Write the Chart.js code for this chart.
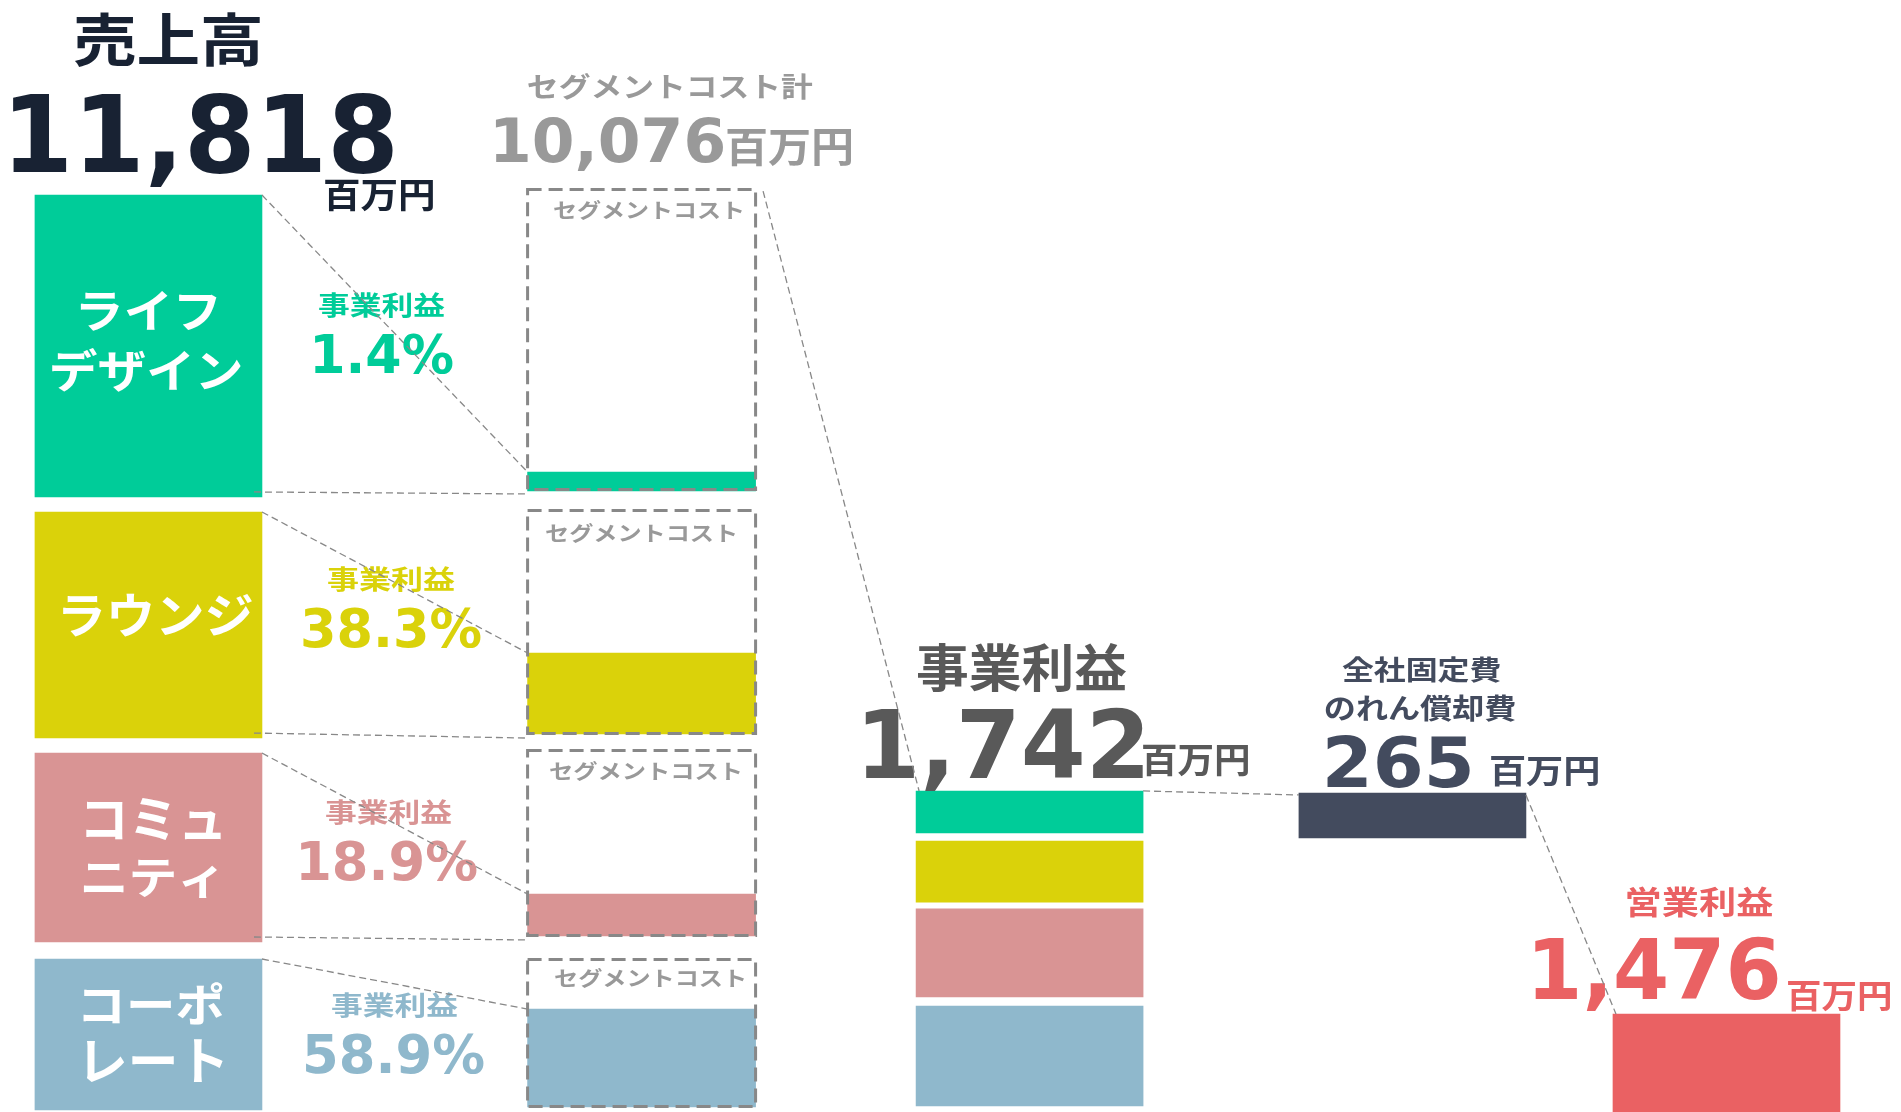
<!DOCTYPE html>
<html lang="ja">
<head>
<meta charset="utf-8">
<title>売上高から営業利益まで</title>
<script src="https://cdn.jsdelivr.net/npm/chart.js@4.4.1/dist/chart.umd.min.js"></script>
<style>
  html, body { margin: 0; padding: 0; background: #fff; }
  #wrap { width: 1901px; height: 1112px; }
</style>
</head>
<body>
<div id="wrap"><canvas id="chart" width="1901" height="1112"></canvas></div>
<script>
// セグメント
const segments = [['ライフ', 'デザイン'], ['ラウンジ'], ['コミュ', 'ニティ'], ['コーポ', 'レート']];
const profitRates = ['1.4%', '38.3%', '18.9%', '58.9%'];

// 合計（百万円）
const totalLabels = ['売上高', 'セグメントコスト計', '事業利益', '全社固定費', 'のれん償却費', '営業利益'];
const totalValues = ['11,818', '10,076', '1,742', '265', '1,476'];
const unit = '百万円';
const boxLabel = 'セグメントコスト';

// 縦軸 0（上端）〜 100（下端）で読んだ各ブロックの範囲
const salesRanges = [[17.54, 44.69], [46.04, 66.37], [67.72, 84.71], [86.24, 99.82]];
const costBoxRanges = [[16.91, 44.15], [45.77, 66.10], [67.36, 84.26], [86.15, 99.64]];
const boxProfitRanges = [[42.45, 44.15], [58.72, 66.01], [80.40, 84.17], [90.74, 99.55]];
const profitStackRanges = [[71.13, 74.91], [75.63, 81.12], [81.74, 89.66], [90.47, 99.46]];
const fixedCostRange = [71.31, 75.36];
const opProfitRange = [91.19, 100];

// 色
const segmentColors = ['#00CC99', '#DAD20A', '#D99494', '#8FB8CC'];
const NAVY = '#182233';
const SLATE = '#434B5E';
const GREY = '#999999';
const DARK = '#595959';
const RED = '#EA6163';
const LINE = '#888888';

const JP = '"Noto Sans CJK JP", "Noto Sans", sans-serif';
const NUM = '"DejaVu Sans", Verdana, sans-serif';

// 列の横位置（x軸 0〜100）
const colX = [7.81, 33.75, 54.16, 74.30, 90.82];
const pts = (ranges, col) => ranges.map(r => ({ x: colX[col], y: r }));

// テキストの配置 [文字, x0, y0, x1, y1, 色, フォント]
const texts = [
  [totalLabels[0], 74, 12, 260, 67, NAVY, JP],
  [totalValues[0], 13, 93, 393, 174, NAVY, NUM],
  [unit, 325, 180, 433, 212, NAVY, JP],
  [totalLabels[1], 528, 73, 813, 100, GREY, JP],
  [totalValues[1], 495, 117, 723, 163, GREY, NUM],
  [unit, 727, 130, 852, 167, GREY, JP],

  [segments[0][0], 80, 291, 217, 331, '#ffffff', JP],
  [segments[0][1], 52, 348, 241, 392, '#ffffff', JP],
  [segments[1][0], 63, 594, 252, 637, '#ffffff', JP],
  [segments[2][0], 86, 798, 221, 840, '#ffffff', JP],
  [segments[2][1], 83, 860, 217, 898, '#ffffff', JP],
  [segments[3][0], 83, 982, 223, 1025, '#ffffff', JP],
  [segments[3][1], 86, 1040, 223, 1083, '#ffffff', JP],

  [totalLabels[2], 318, 293, 445, 318, segmentColors[0], JP],
  [profitRates[0], 315, 333, 453, 374, segmentColors[0], NUM],
  [totalLabels[2], 327, 567, 455, 592, segmentColors[1], JP],
  [profitRates[1], 303, 607, 481, 648, segmentColors[1], NUM],
  [totalLabels[2], 325, 800, 452, 825, segmentColors[2], JP],
  [profitRates[2], 301, 840, 477, 881, segmentColors[2], NUM],
  [totalLabels[2], 331, 993, 458, 1018, segmentColors[3], JP],
  [profitRates[3], 306, 1033, 484, 1074, segmentColors[3], NUM],

  [boxLabel, 553, 200, 742, 220, GREY, JP],
  [boxLabel, 545, 523, 735, 543, GREY, JP],
  [boxLabel, 549, 761, 740, 781, GREY, JP],
  [boxLabel, 554, 968, 744, 988, GREY, JP],

  [totalLabels[2], 917, 643, 1127, 692, DARK, JP],
  [totalValues[2], 865, 707, 1143, 778, DARK, NUM],
  [unit, 1143, 745, 1248, 777, DARK, JP],
  [totalLabels[3], 1342, 657, 1500, 683, SLATE, JP],
  [totalLabels[4], 1325, 695, 1515, 722, SLATE, JP],
  [totalValues[3], 1327, 735, 1470, 788, SLATE, NUM],
  [unit, 1490, 757, 1598, 787, SLATE, JP],
  [totalLabels[5], 1627, 888, 1773, 918, RED, JP],
  [totalValues[4], 1535, 937, 1778, 1000, RED, NUM],
  [unit, 1787, 982, 1890, 1012, RED, JP]
];

// 文字のインク範囲を箱に合わせて描く
function fitText(ctx, str, x0, y0, x1, y1, color, family) {
  const bare = str.replace(/[,.]/g, '');
  ctx.font = 'bold 100px ' + family;
  const ref = ctx.measureText(bare);
  const size = 100 * (y1 - y0) / (ref.actualBoundingBoxAscent + ref.actualBoundingBoxDescent);
  ctx.font = 'bold ' + size.toFixed(2) + 'px ' + family;
  const m = ctx.measureText(str);
  const r = ctx.measureText(bare);
  const sx = (x1 - x0) / (m.actualBoundingBoxLeft + m.actualBoundingBoxRight);
  ctx.save();
  ctx.fillStyle = color;
  ctx.textAlign = 'left';
  ctx.textBaseline = 'alphabetic';
  ctx.translate(x0, y1 - r.actualBoundingBoxDescent);
  ctx.scale(sx, 1);
  ctx.fillText(str, m.actualBoundingBoxLeft, 0);
  ctx.restore();
}

function barRect(chart, di, i) {
  const p = chart.getDatasetMeta(di).data[i].getProps(['x', 'y', 'base', 'width'], true);
  return { l: p.x - p.width / 2, r: p.x + p.width / 2, t: Math.min(p.y, p.base), b: Math.max(p.y, p.base) };
}

const overlay = {
  id: 'overlay',
  afterDatasetsDraw(chart) {
    const ctx = chart.ctx;

    // セグメントコストの点線枠
    ctx.save();
    ctx.strokeStyle = LINE;
    ctx.lineWidth = 3;
    ctx.setLineDash([14, 7]);
    costBoxRanges.forEach((_, i) => {
      const b = barRect(chart, 1, i);
      ctx.strokeRect(b.l + 1.5, b.t + 1.5, b.r - b.l - 3, b.b - b.t - 3);
    });
    ctx.restore();

    texts.forEach(t => fitText(ctx, ...t));

    // つなぎの点線
    const lines = [];
    salesRanges.forEach((_, i) => {
      const s = barRect(chart, 0, i);
      const p = barRect(chart, 2, i);
      lines.push([s.r, s.t, p.l, p.t]);
      if (i < 3) {
        const c = barRect(chart, 1, i);
        lines.push([s.r - 8, s.b - 5, c.l, c.b + 3]);
      }
    });
    const box0 = barRect(chart, 1, 0);
    const st0 = barRect(chart, 3, 0);
    const fx = barRect(chart, 4, 0);
    const op = barRect(chart, 5, 0);
    lines.push([box0.r + 6, box0.t + 3, st0.l + 3, st0.t]);
    lines.push([st0.r, st0.t, fx.l, fx.t + 2]);
    lines.push([fx.r, fx.t + 2, op.l + 3, op.t]);

    ctx.save();
    ctx.strokeStyle = LINE;
    ctx.lineWidth = 1.3;
    ctx.setLineDash([7, 4]);
    lines.forEach(([ax, ay, bx, by]) => {
      ctx.beginPath();
      ctx.moveTo(ax, ay);
      ctx.lineTo(bx, by);
      ctx.stroke();
    });
    ctx.restore();
  }
};

new Chart(document.getElementById('chart'), {
  type: 'bar',
  data: {
    datasets: [
      { label: '売上高', data: pts(salesRanges, 0), backgroundColor: segmentColors, barThickness: 227 },
      { label: 'セグメントコスト', data: pts(costBoxRanges, 1), backgroundColor: 'rgba(0,0,0,0)', barThickness: 231 },
      { label: 'セグメント事業利益', data: pts(boxProfitRanges, 1), backgroundColor: segmentColors, barThickness: 228 },
      { label: '事業利益', data: pts(profitStackRanges, 2), backgroundColor: segmentColors, barThickness: 227 },
      { label: '全社固定費・のれん償却費', data: pts([fixedCostRange], 3), backgroundColor: SLATE, barThickness: 227 },
      { label: '営業利益', data: pts([opProfitRange], 4), backgroundColor: RED, barThickness: 227 }
    ].map(d => Object.assign(d, { stack: 'all', borderWidth: 0 }))
  },
  options: {
    responsive: false,
    animation: false,
    events: [],
    layout: { padding: 0 },
    plugins: { legend: { display: false }, tooltip: { enabled: false } },
    scales: {
      x: { type: 'linear', min: 0, max: 100, offset: false, display: false },
      y: { type: 'linear', min: 0, max: 100, reverse: true, display: false, stacked: false }
    }
  },
  plugins: [overlay]
});
</script>
</body>
</html>
